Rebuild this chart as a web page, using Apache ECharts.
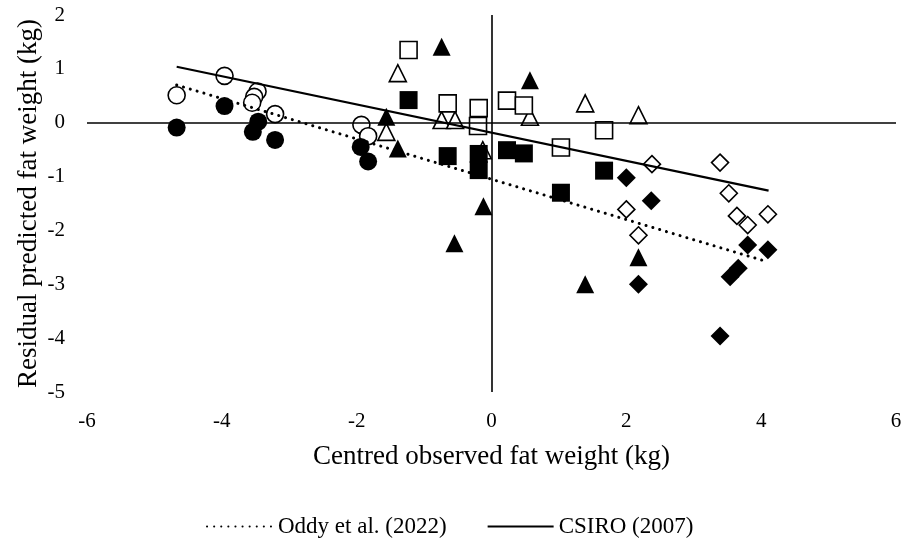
<!DOCTYPE html>
<html>
<head>
<meta charset="utf-8">
<script src="https://cdn.jsdelivr.net/npm/echarts@6/dist/echarts.min.js"></script>
<style>
  html, body { margin: 0; padding: 0; background: #fff; }
  #chart { width: 905px; height: 541px; }
</style>
</head>
<body>
<div id="chart"></div>
<script>
// Centred observed fat weight (x, kg) vs residual predicted fat weight (y, kg)
// Filled markers: Oddy et al. (2022); open markers: CSIRO (2007)
const circleFilled = [[-4.67, -0.09], [-3.96, 0.31], [-3.46, 0.02], [-3.54, -0.17], [-3.21, -0.32], [-1.94, -0.45], [-1.83, -0.72]];
const circleOpen = [[-4.67, 0.51], [-3.96, 0.87], [-3.47, 0.58], [-3.52, 0.48], [-3.55, 0.37], [-3.21, 0.16], [-1.93, -0.04], [-1.83, -0.25]];
const triangleFilled = [[-1.56, 0.11], [-1.39, -0.48], [-0.74, 1.41], [-0.55, -2.24], [-0.12, -1.55], [0.57, 0.79], [1.39, -3.0], [2.18, -2.5]];
const triangleOpen = [[-1.56, -0.17], [-1.39, 0.92], [-0.74, 0.05], [-0.54, 0.05], [-0.13, -0.51], [0.57, 0.11], [1.39, 0.36], [2.18, 0.14]];
const squareFilled = [[-1.23, 0.42], [-0.65, -0.62], [-0.19, -0.58], [-0.19, -0.88], [0.23, -0.51], [0.48, -0.57], [1.03, -1.3], [1.67, -0.89]];
const squareOpen = [[-1.23, 1.35], [-0.65, 0.36], [-0.19, 0.27], [-0.2, -0.06], [0.23, 0.41], [0.48, 0.32], [1.03, -0.46], [1.67, -0.14]];
const diamondFilled = [[2.0, -1.02], [2.37, -1.45], [2.18, -3.0], [3.39, -3.96], [3.54, -2.86], [3.66, -2.7], [3.8, -2.27], [4.1, -2.36]];
const diamondOpen = [[2.0, -1.61], [2.18, -2.09], [2.38, -0.77], [3.39, -0.74], [3.52, -1.31], [3.64, -1.73], [3.8, -1.9], [4.1, -1.7]];

// Fitted trend lines (end points)
const oddyLine = [[-4.67, 0.7], [4.06, -2.57]];
const csiroLine = [[-4.67, 1.04], [4.11, -1.26]];

const xTicks = { min: -6, max: 6, interval: 2 };
const yTicks = { min: -5, max: 2, interval: 1 };

const FONT = '"Liberation Serif", "Times New Roman", serif';

function scatter(data, symbol, filled, size) {
  return {
    type: 'scatter',
    data: data,
    symbol: symbol,
    symbolSize: size,
    itemStyle: filled
      ? { color: '#000', borderColor: '#000', borderWidth: 0, opacity: 1 }
      : { color: '#fff', borderColor: '#000', borderWidth: 1.6, opacity: 1 },
    emphasis: { disabled: true },
    z: 3
  };
}

const chart = echarts.init(document.getElementById('chart'), null, { renderer: 'canvas' });
chart.setOption({
  animation: false,
  backgroundColor: '#fff',
  textStyle: { fontFamily: FONT, color: '#000' },
  grid: { left: 87, right: 9, top: 15, bottom: 149, containLabel: false },
  xAxis: {
    type: 'value',
    min: xTicks.min, max: xTicks.max, interval: xTicks.interval,
    axisLine: { show: false },
    axisTick: { show: false },
    splitLine: { show: false },
    axisLabel: { fontFamily: FONT, fontSize: 21, color: '#000', margin: 19 },
    name: 'Centred observed fat weight (kg)',
    nameLocation: 'middle',
    nameGap: 51,
    nameMoveOverlap: false,
    nameTextStyle: { fontFamily: FONT, fontSize: 27, color: '#000' }
  },
  yAxis: {
    type: 'value',
    min: yTicks.min, max: yTicks.max, interval: yTicks.interval,
    axisLine: { show: false },
    axisTick: { show: false },
    splitLine: { show: false },
    axisLabel: { fontFamily: FONT, fontSize: 21, color: '#000', margin: 22 },
    name: 'Residual predicted fat weight (kg)',
    nameLocation: 'middle',
    nameGap: 45,
    nameMoveOverlap: false,
    nameTextStyle: { fontFamily: FONT, fontSize: 27, color: '#000' }
  },
  legend: {
    data: ['Oddy et al. (2022)', 'CSIRO (2007)'],
    bottom: -2,
    left: 201,
    itemWidth: 66,
    itemHeight: 14,
    itemGap: 40,
    itemStyle: { opacity: 0 },
    textStyle: { fontFamily: FONT, fontSize: 23, color: '#000' },
    selectedMode: false
  },
  series: [
    {
      type: 'line',
      name: 'axes',
      data: [],
      silent: true,
      markLine: {
        silent: true,
        symbol: 'none',
        label: { show: false },
        lineStyle: { color: '#000', width: 1.6, type: 'solid' },
        emphasis: { disabled: true },
        data: [{ xAxis: 0 }, { yAxis: 0 }]
      }
    },
    scatter(circleOpen, 'circle', false, 17),
    scatter(circleFilled, 'circle', true, 18),
    scatter(triangleOpen, 'triangle', false, 17),
    scatter(triangleFilled, 'triangle', true, 18),
    scatter(squareOpen, 'rect', false, 17),
    scatter(squareFilled, 'rect', true, 18),
    scatter(diamondOpen, 'diamond', false, 17),
    scatter(diamondFilled, 'diamond', true, 19),
    {
      type: 'line',
      name: 'Oddy et al. (2022)',
      data: oddyLine,
      symbol: 'none',
      lineStyle: { color: '#000', width: 3, type: [0.1, 7], cap: 'round' },
      itemStyle: { color: '#000' },
      z: 4
    },
    {
      type: 'line',
      name: 'CSIRO (2007)',
      data: csiroLine,
      symbol: 'none',
      lineStyle: { color: '#000', width: 2.2, type: 'solid' },
      itemStyle: { color: '#000' },
      z: 4
    }
  ]
});
</script>
</body>
</html>
